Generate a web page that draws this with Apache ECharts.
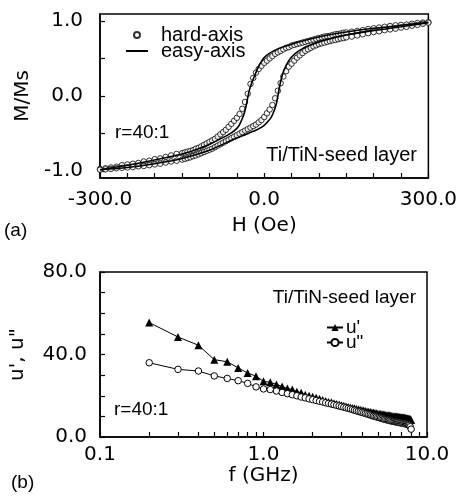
<!DOCTYPE html>
<html>
<head>
<meta charset="utf-8">
<script src="https://cdn.jsdelivr.net/npm/echarts@6/dist/echarts.min.js"></script>
<style>
html,body{margin:0;padding:0;background:#fff;}
#chart{width:460px;height:496px;}
</style>
</head>
<body>
<div id="chart"></div>
<script>
// ---------- (a) hysteresis loop ----------
const hardH = [-300,-290,-280,-270,-260,-250,-240,-230,-220,-210,-200,-190,-180,-170,-160,
  -150,-145,-140,-135,-130,-125,-120,-115,-110,-105,-100,-95,-90,-85,-80,-75,-70,-65,-60,-55,-50,-45,-40,-35,-30,-25,-20,-15,-10,-5,
  0,5,10,15,20,25,30,35,40,45,50,55,60,65,70,75,80,85,90,95,100,105,110,115,120,125,130,135,140,145,150,
  160,170,180,190,200,210,220,230,240,250,260,270,280,290,300];
const hardDown = [-0.97,-0.96,-0.95,-0.94,-0.92,-0.91,-0.90,-0.89,-0.87,-0.86,-0.84,-0.83,-0.81,-0.79,-0.77,
  -0.76,-0.75,-0.74,-0.73,-0.72,-0.70,-0.69,-0.67,-0.65,-0.63,-0.61,-0.59,-0.57,-0.54,-0.51,-0.48,-0.45,-0.41,-0.37,-0.33,-0.29,-0.24,-0.17,-0.08,0.03,0.16,0.24,0.31,0.36,0.40,
  0.44,0.47,0.50,0.53,0.56,0.58,0.60,0.62,0.64,0.65,0.67,0.68,0.69,0.70,0.71,0.72,0.73,0.74,0.75,0.76,0.77,0.78,0.79,0.795,0.80,0.81,0.82,0.825,0.83,0.84,0.845,
  0.855,0.865,0.875,0.89,0.90,0.91,0.92,0.93,0.94,0.945,0.95,0.96,0.97,0.975,0.98];
const hardUp = [-0.98,-0.975,-0.97,-0.96,-0.955,-0.95,-0.945,-0.935,-0.93,-0.92,-0.91,-0.90,-0.885,-0.87,-0.86,
  -0.845,-0.835,-0.825,-0.815,-0.80,-0.79,-0.775,-0.76,-0.745,-0.73,-0.715,-0.70,-0.68,-0.66,-0.64,-0.62,-0.60,-0.58,-0.56,-0.54,-0.52,-0.50,-0.48,-0.46,-0.44,-0.42,-0.40,-0.38,-0.35,-0.32,
  -0.28,-0.23,-0.18,-0.12,-0.03,0.07,0.17,0.26,0.33,0.39,0.43,0.47,0.51,0.54,0.57,0.60,0.62,0.64,0.66,0.675,0.69,0.70,0.71,0.72,0.73,0.74,0.745,0.755,0.765,0.77,0.78,
  0.79,0.805,0.82,0.835,0.85,0.86,0.875,0.885,0.895,0.91,0.92,0.935,0.945,0.96,0.975];
const easyDownH = [-300,-250,-200,-150,-120,-100,-80,-60,-50,-45,-40,-36,-33,-30,-27,-23,-18,-11,-5,0,10,20,30,43,60,86,110,150,200,250,300];
const easyDownM = [-0.98,-0.92,-0.85,-0.77,-0.70,-0.64,-0.57,-0.49,-0.43,-0.38,-0.30,-0.22,-0.13,-0.02,0.08,0.17,0.26,0.38,0.46,0.51,0.57,0.61,0.64,0.67,0.71,0.76,0.80,0.85,0.90,0.94,0.98];
const easyUpH = [-300,-250,-200,-150,-100,-66,-40,-20,-11,0,8,13,18,22,25,28,31,36,45,56,70,86,110,150,200,250,300];
const easyUpM = [-0.98,-0.95,-0.90,-0.83,-0.72,-0.61,-0.53,-0.47,-0.44,-0.39,-0.33,-0.28,-0.20,-0.11,0.00,0.12,0.22,0.34,0.47,0.56,0.63,0.68,0.74,0.81,0.87,0.92,0.975];
const hTickLabels = [-300, 0, 300];
const mTickLabels = [-1, 0, 1];

// ---------- (b) permeability spectra ----------
const freq = [0.2,0.3,0.4,0.5,0.6,0.7,0.8,0.9,1.0,
  1.1,1.2,1.3,1.4,1.5,1.6,1.7,1.8,1.9,2.0,
  2.1,2.2,2.3,2.4,2.5,2.6,2.7,2.8,2.9,3.0,
  3.1,3.2,3.3,3.4,3.5,3.6,3.7,3.8,3.9,4.0,
  4.1,4.2,4.3,4.4,4.5,4.6,4.7,4.8,4.9,5.0,
  5.1,5.2,5.3,5.4,5.5,5.6,5.7,5.8,5.9,6.0,
  6.1,6.2,6.3,6.4,6.5,6.6,6.7,6.8,6.9,7.0,
  7.1,7.2,7.3,7.4,7.5,7.6,7.7,7.8,7.9,8.0];
const uPrime = [55.5,48.5,44.5,37.5,36.5,33.5,31.0,29.5,27.0,
  26.5,25.5,24.5,23.5,23.0,22.0,21.5,20.5,20.0,19.5,
  19.0,18.5,18.0,17.5,17.0,16.8,16.4,16.0,15.7,15.4,
  15.1,14.8,14.6,14.3,14.1,13.9,13.6,13.4,13.2,13.0,
  12.8,12.6,12.4,12.3,12.1,11.9,11.8,11.6,11.5,11.3,
  11.2,11.1,11.0,10.9,10.8,10.7,10.6,10.5,10.4,10.3,
  10.2,10.1,10.0,10.0,9.9,9.8,9.7,9.7,9.6,9.5,
  9.4,9.4,9.3,9.2,9.1,9.0,8.9,8.8,8.6,8.3];
const uDouble = [36.0,32.8,32.0,29.6,28.4,27.3,26.0,24.3,23.3,
  23.0,22.3,21.6,21.0,20.5,20.0,19.4,19.0,18.5,18.1,
  17.7,17.3,17.0,16.6,16.3,16.0,15.7,15.4,15.1,14.8,
  14.5,14.2,13.9,13.6,13.3,13.0,12.7,12.4,12.2,11.9,
  11.7,11.4,11.2,10.9,10.7,10.4,10.2,10.0,9.8,9.6,
  9.4,9.2,9.0,8.8,8.6,8.5,8.3,8.2,8.0,7.9,
  7.8,7.6,7.5,7.4,7.3,7.2,7.1,7.0,6.9,6.8,
  6.7,6.6,6.5,6.4,6.3,6.1,5.9,5.6,5.0,3.8];
const fTicks = [0.1,0.2,0.3,0.4,0.5,0.6,0.7,0.8,0.9,1,2,3,4,5,6,7,8,9,10];
const fTickLabels = [0.1, 1, 10];
const uTickLabels = [0, 40, 80];

// ---------- build ----------
const zip = (xs, ys) => xs.map((x, i) => [x, ys[i]]);
const NUM_FONT = '"DejaVu Sans", sans-serif';
const TXT = '"Liberation Sans", Arial, sans-serif';
const black = '#000';

const axisCommon = {
  axisLine: { show: true, onZero: false, lineStyle: { color: black, width: 1.5 } },
  axisTick: { show: true, inside: true, length: 5, lineStyle: { color: black, width: 1.2 } },
  splitLine: { show: false },
  nameTextStyle: { fontFamily: NUM_FONT, fontSize: 20, color: black },
  nameLocation: 'middle'
};
const legendText = (size, padLeft) => ({ fontFamily: TXT, fontSize: size, color: black, padding: [0, 0, 0, padLeft] });

const chart = echarts.init(document.getElementById('chart'), null, { renderer: 'canvas' });
const option = {
  animation: false,
  backgroundColor: '#fff',
  grid: [
    { left: 100, top: 14, width: 329, height: 164, show: true, borderColor: black, borderWidth: 1.5 },
    { left: 100, top: 272, width: 327, height: 165, show: true, borderColor: black, borderWidth: 1.5 }
  ],
  xAxis: [
    Object.assign({}, axisCommon, {
      type: 'value', gridIndex: 0, min: -300, max: 300, interval: 50,
      name: 'H (Oe)', nameGap: 38,
      axisLabel: {
        fontFamily: NUM_FONT, fontSize: 20, color: black, margin: 12,
        formatter: v => hTickLabels.indexOf(v) >= 0 ? v.toFixed(1) : ''
      }
    }),
    Object.assign({}, axisCommon, {
      type: 'log', logBase: 10, gridIndex: 1, min: 0.1, max: 10,
      name: 'f (GHz)', nameGap: 25,
      axisTick: Object.assign({}, axisCommon.axisTick, { customValues: fTicks }),
      axisLabel: {
        fontFamily: NUM_FONT, fontSize: 20, color: black, margin: 8,
        customValues: fTickLabels,
        formatter: v => Number(v).toFixed(1)
      }
    })
  ],
  yAxis: [
    Object.assign({}, axisCommon, {
      type: 'value', gridIndex: 0, min: -1.09, max: 1.09,
      name: 'M/Ms', nameGap: 64,
      axisTick: Object.assign({}, axisCommon.axisTick, { customValues: [-1, -0.5, 0, 0.5, 1] }),
      axisLabel: {
        fontFamily: NUM_FONT, fontSize: 20, color: black, margin: 17,
        customValues: mTickLabels,
        formatter: v => Number(v).toFixed(1)
      }
    }),
    Object.assign({}, axisCommon, {
      type: 'value', gridIndex: 1, min: 0, max: 80, interval: 10,
      name: 'u\', u"', nameGap: 72,
      axisLabel: {
        fontFamily: NUM_FONT, fontSize: 20, color: black, margin: 13,
        formatter: v => uTickLabels.indexOf(v) >= 0 ? v.toFixed(1) : ''
      }
    })
  ],
  legend: [
    { data: ['hard-axis'], left: 133, top: 25, padding: 0, itemWidth: 6, itemHeight: 6,
      textStyle: legendText(20, 16) },
    { data: ['easy-axis'], left: 125, top: 41, padding: 0, itemWidth: 22, itemHeight: 6,
      itemStyle: { opacity: 0 },
      textStyle: legendText(20, 8) },
    { data: ['u\''], left: 326, top: 318, padding: 0, itemWidth: 16, itemHeight: 9,
      textStyle: legendText(19, -2) },
    { data: ['u"'], left: 326, top: 333, padding: 0, itemWidth: 16, itemHeight: 9,
      textStyle: legendText(19, -2) }
  ],
  series: [
    {
      name: 'hard-axis', type: 'scatter', xAxisIndex: 0, yAxisIndex: 0, z: 2,
      data: zip(hardH, hardDown).concat(zip(hardH, hardUp)),
      symbol: 'circle', symbolSize: 5.5,
      itemStyle: { color: '#fff', borderColor: black, borderWidth: 1 }
    },
    {
      name: 'easy-axis', type: 'line', xAxisIndex: 0, yAxisIndex: 0, z: 3,
      data: zip(easyDownH, easyDownM), symbol: 'none', smooth: 0.3,
      lineStyle: { color: black, width: 1.6 }, itemStyle: { color: black }
    },
    {
      name: 'easy-axis', type: 'line', xAxisIndex: 0, yAxisIndex: 0, z: 3,
      data: zip(easyUpH, easyUpM), symbol: 'none', smooth: 0.3,
      lineStyle: { color: black, width: 1.6 }, itemStyle: { color: black }
    },
    {
      name: 'u\'', type: 'line', xAxisIndex: 1, yAxisIndex: 1, z: 3,
      data: zip(freq, uPrime), symbol: 'triangle', symbolSize: 8,
      lineStyle: { color: black, width: 1 }, itemStyle: { color: black }
    },
    {
      name: 'u"', type: 'line', xAxisIndex: 1, yAxisIndex: 1, z: 4,
      data: zip(freq, uDouble), symbol: 'circle', symbolSize: 6.5,
      lineStyle: { color: black, width: 1 },
      itemStyle: { color: '#fff', borderColor: black, borderWidth: 1 }
    }
  ],
  graphic: [
    { type: 'text', x: 115, y: 133, style: { text: 'r=40:1', font: '19px ' + TXT, fill: black, align: 'left', verticalAlign: 'middle' } },
    { type: 'text', x: 417, y: 155, style: { text: 'Ti/TiN-seed layer', font: '20px ' + TXT, fill: black, align: 'right', verticalAlign: 'middle' } },
    { type: 'text', x: 4, y: 231, style: { text: '(a)', font: '19px ' + TXT, fill: black, align: 'left', verticalAlign: 'middle' } },
    { type: 'text', x: 416, y: 298, style: { text: 'Ti/TiN-seed layer', font: '19px ' + TXT, fill: black, align: 'right', verticalAlign: 'middle' } },
    { type: 'text', x: 114, y: 410, style: { text: 'r=40:1', font: '19px ' + TXT, fill: black, align: 'left', verticalAlign: 'middle' } },
    { type: 'text', x: 11, y: 483, style: { text: '(b)', font: '19px ' + TXT, fill: black, align: 'left', verticalAlign: 'middle' } }
  ]
};
chart.setOption(option);
</script>
</body>
</html>
